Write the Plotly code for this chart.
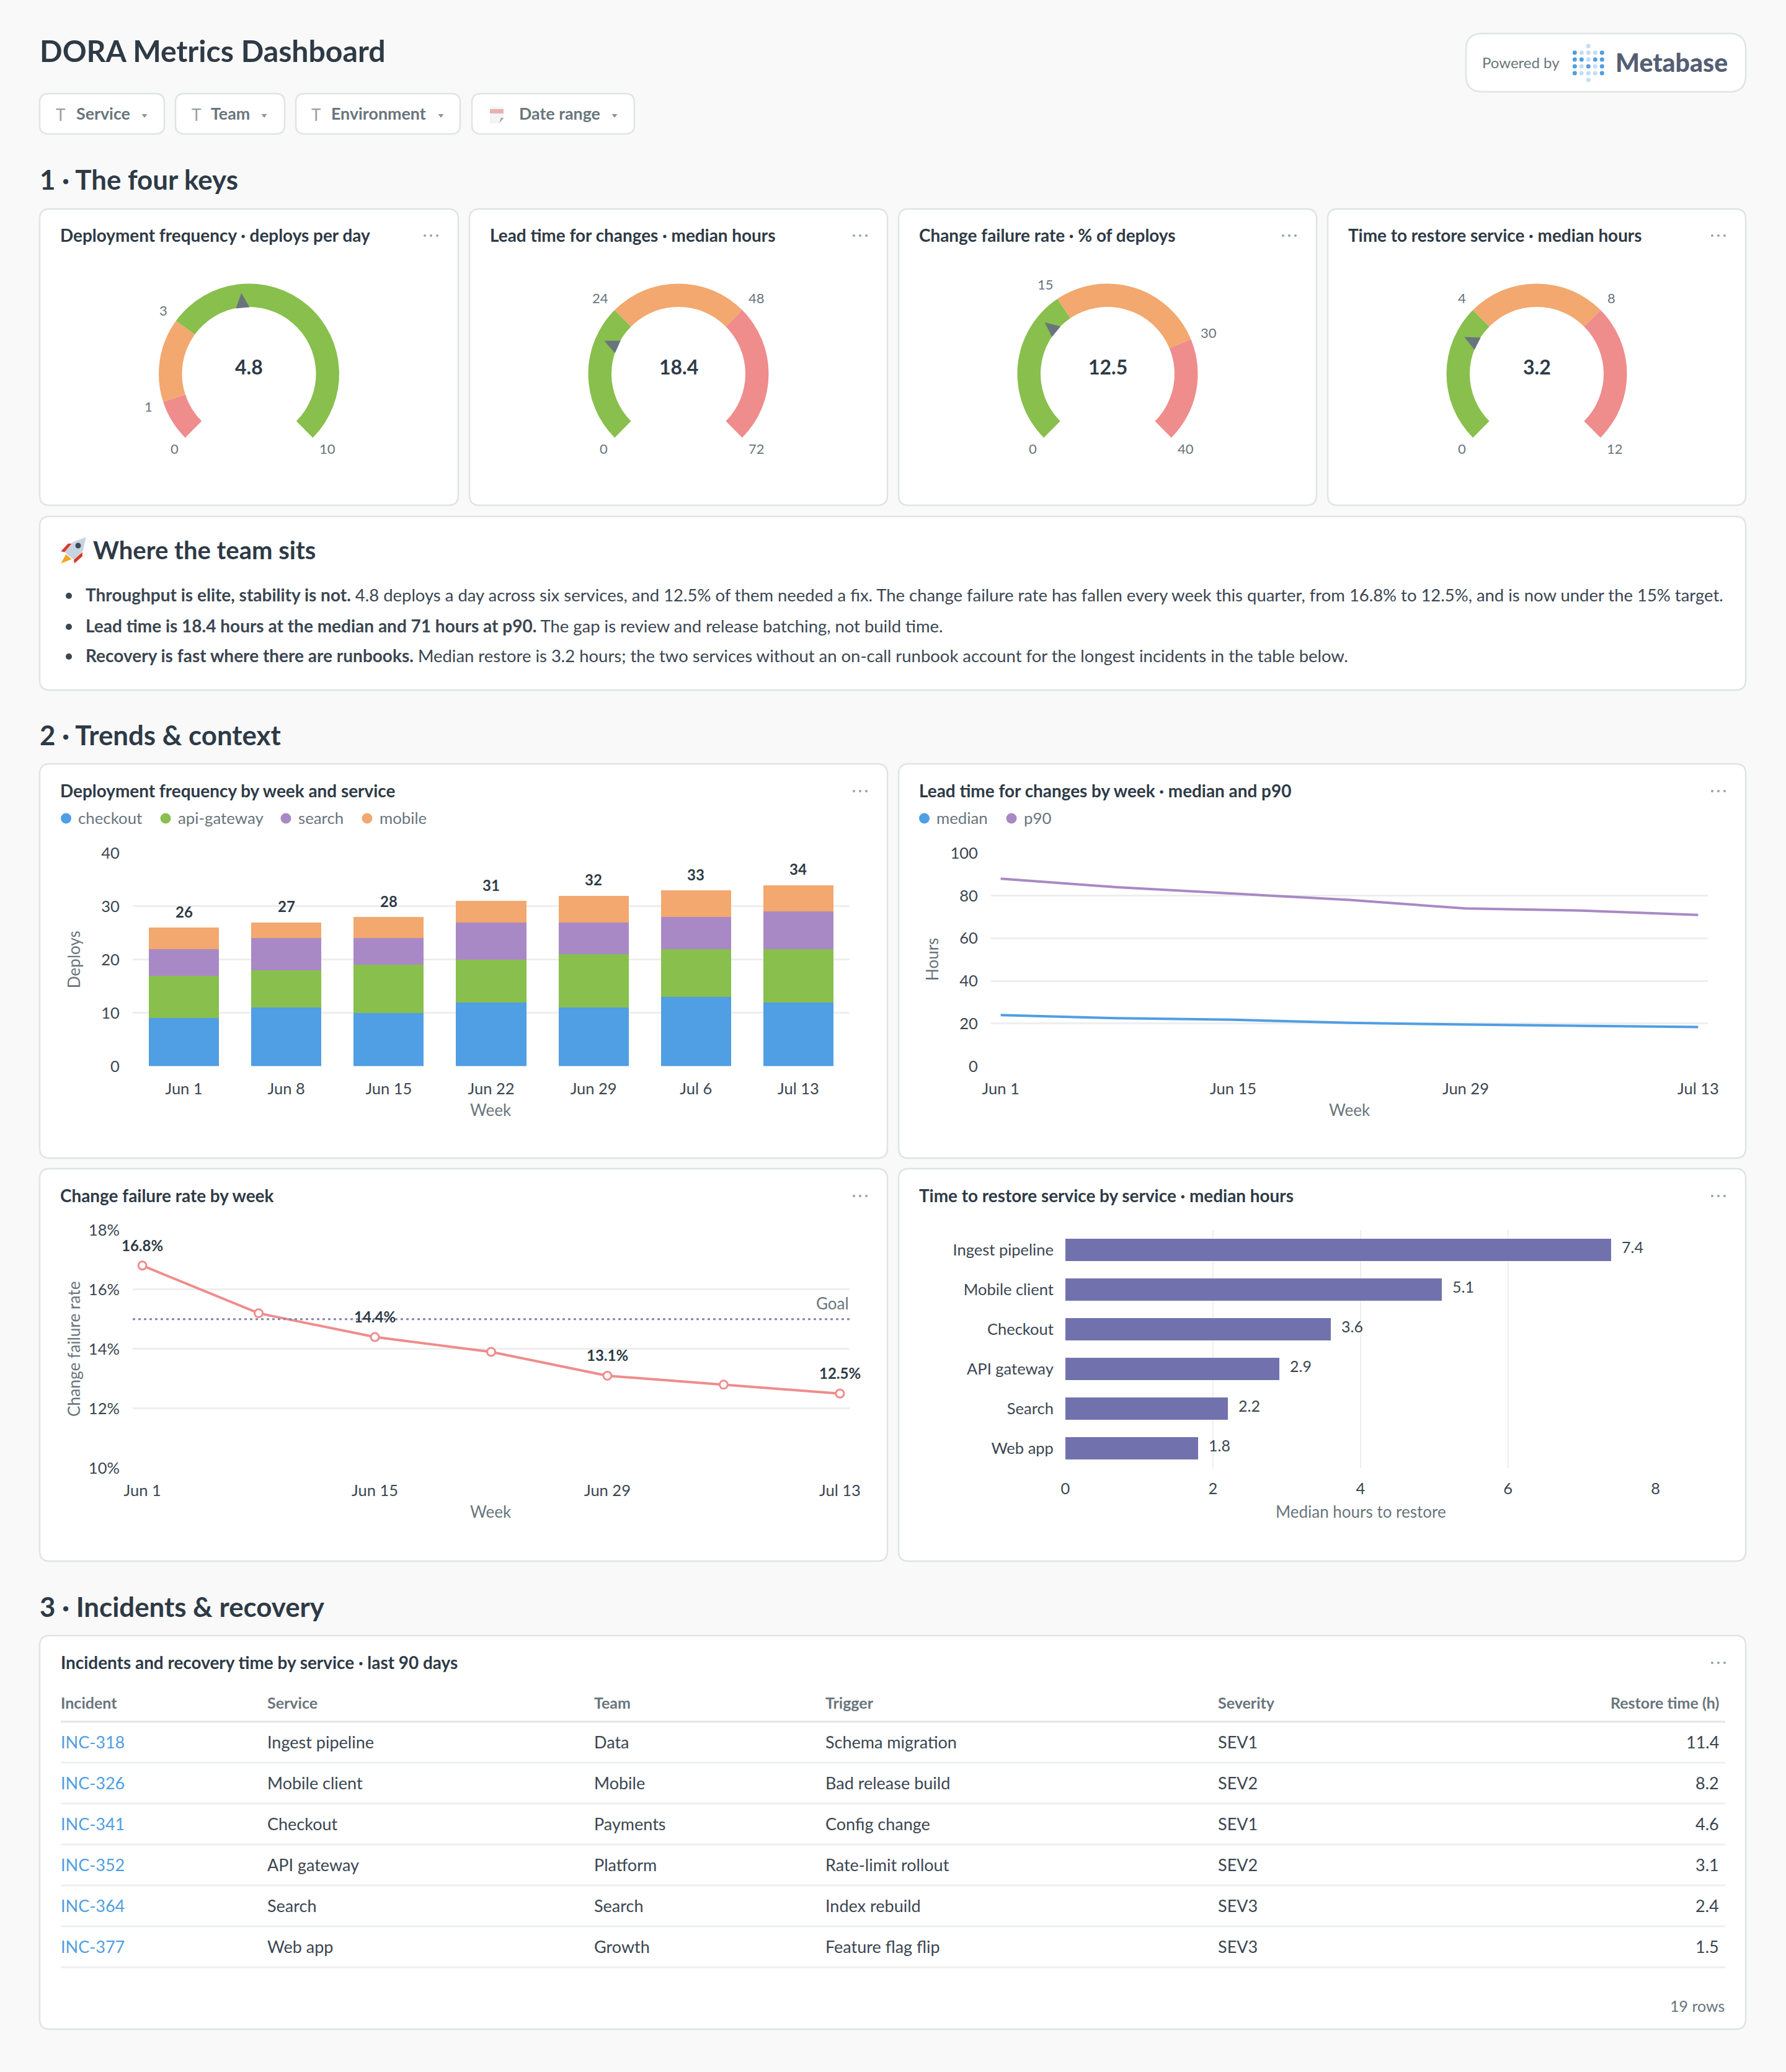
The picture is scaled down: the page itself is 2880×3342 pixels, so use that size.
import math
import plotly.graph_objects as go

W, H = 2880, 3342
FONT = "Lato"
BG = "#f9f9f9"
BORDER = "#e0e4e4"
DARK = "#2e3a46"
BODY = "#3b4651"
GRAY = "#69757c"
GRID = "#eeeeee"
BLUE = "#509ee3"
GREEN = "#88bf4d"
PURPLE = "#a989c5"
ORANGE = "#f2a86f"
RED = "#ef8c8c"
INDIGO = "#7172ad"

# gauges
gauge_titles = ["Deployment frequency · deploys per day", "Lead time for changes · median hours",
                "Change failure rate · % of deploys", "Time to restore service · median hours"]
gauge_values = [4.8, 18.4, 12.5, 3.2]
gauge_stops = [[0, 1, 3, 10], [0, 24, 48, 72], [0, 15, 30, 40], [0, 4, 8, 12]]
gauge_colors = [[RED, ORANGE, GREEN], [GREEN, ORANGE, RED], [GREEN, ORANGE, RED], [GREEN, ORANGE, RED]]

# weekly data
weeks = ["Jun 1", "Jun 8", "Jun 15", "Jun 22", "Jun 29", "Jul 6", "Jul 13"]
sparse_weeks = ["Jun 1", "Jun 15", "Jun 29", "Jul 13"]
checkout = [9, 11, 10, 12, 11, 13, 12]
api_gateway = [8, 7, 9, 8, 10, 9, 10]
search = [5, 6, 5, 7, 6, 6, 7]
mobile = [4, 3, 4, 4, 5, 5, 5]
deploy_totals = [26, 27, 28, 31, 32, 33, 34]
lead_median = [24, 22.5, 21.8, 20.3, 19.5, 18.9, 18.4]
lead_p90 = [88, 84, 81, 78, 74, 73, 71]
cfr = [16.8, 15.2, 14.4, 13.9, 13.1, 12.8, 12.5]
cfr_labels = ["16.8%", "", "14.4%", "", "13.1%", "", "12.5%"]
cfr_goal = 15

# restore time
restore_services = ["Ingest pipeline", "Mobile client", "Checkout", "API gateway", "Search", "Web app"]
restore_hours = [7.4, 5.1, 3.6, 2.9, 2.2, 1.8]

# incidents table
table_headers = ["Incident", "Service", "Team", "Trigger", "Severity", "Restore time (h)"]
inc_ids = ["INC-318", "INC-326", "INC-341", "INC-352", "INC-364", "INC-377"]
inc_services = ["Ingest pipeline", "Mobile client", "Checkout", "API gateway", "Search", "Web app"]
inc_teams = ["Data", "Mobile", "Payments", "Platform", "Search", "Growth"]
inc_triggers = ["Schema migration", "Bad release build", "Config change", "Rate-limit rollout", "Index rebuild", "Feature flag flip"]
inc_severity = ["SEV1", "SEV2", "SEV1", "SEV2", "SEV3", "SEV3"]
inc_restore = ["11.4", "8.2", "4.6", "3.1", "2.4", "1.5"]

notes_bold = ["Throughput is elite, stability is not.", "Lead time is 18.4 hours at the median and 71 hours at p90.",
              "Recovery is fast where there are runbooks."]
notes_rest = [
    " 4.8 deploys a day across six services, and 12.5% of them needed a fix. The change failure rate has fallen every week this quarter, from 16.8% to 12.5%, and is now under the 15% target.",
    " The gap is review and release batching, not build time.",
    " Median restore is 3.2 hours; the two services without an on-call runbook account for the longest incidents in the table below.",
]


def fx(x):
    return x / W


def fy(y):
    return 1 - y / H


shapes = []
annotations = []


def text(x, y, s, size=24, color=BODY, bold=False, anchor="left", angle=0, weight=None):
    if anchor == "left":
        x -= 1.5
    if angle == 0:
        y -= 2
    annotations.append(dict(xref="paper", yref="paper", x=fx(x), y=fy(y), text=s, showarrow=False,
                            xanchor=anchor, yanchor="middle", borderpad=0, textangle=angle,
                            font=dict(family=FONT, size=size, color=color, weight=weight or (700 if bold else 400))))


def data_text(xref, yref, x, y, s, xshift=0, yshift=0, anchor="center", bold=False, color=BODY, size=24):
    annotations.append(dict(xref=xref, yref=yref, x=x, y=y, text=s, showarrow=False, xanchor=anchor,
                            yanchor="middle", xshift=xshift, yshift=yshift, borderpad=0,
                            font=dict(family=FONT, size=size, color=color, weight=700 if bold else 400)))


def poly(points, fill, layer="above"):
    p = "M" + " L".join(f"{fx(x):.6f},{fy(y):.6f}" for x, y in points) + " Z"
    shapes.append(dict(type="path", xref="paper", yref="paper", path=p, fillcolor=fill, line=dict(width=0), layer=layer))


def dot(x, y, r, fill):
    shapes.append(dict(type="circle", xref="paper", yref="paper", x0=fx(x - r), x1=fx(x + r), y0=fy(y + r), y1=fy(y - r),
                       fillcolor=fill, line=dict(width=0), layer="above"))


def box(x0, y0, x1, y1, r=16):
    c = [(x0 + r, y0), (x1 - r, y0), (x1, y0), (x1, y0 + r), (x1, y1 - r), (x1, y1), (x1 - r, y1),
         (x0 + r, y1), (x0, y1), (x0, y1 - r), (x0, y0 + r), (x0, y0), (x0 + r, y0)]
    f = [f"{fx(a):.6f},{fy(b):.6f}" for a, b in c]
    p = f"M{f[0]} L{f[1]} Q{f[2]} {f[3]} L{f[4]} Q{f[5]} {f[6]} L{f[7]} Q{f[8]} {f[9]} L{f[10]} Q{f[11]} {f[12]} Z"
    shapes.append(dict(type="path", xref="paper", yref="paper", path=p, fillcolor="white",
                       line=dict(color=BORDER, width=2.5), layer="below"))


def hline(x0, x1, y, color, width):
    shapes.append(dict(type="line", xref="paper", yref="paper", x0=fx(x0), x1=fx(x1), y0=fy(y), y1=fy(y),
                       line=dict(color=color, width=width), layer="below"))


def menu(x, y):
    for dx in (-10, 0, 10):
        dot(x + dx, y, 2, "#98a1a6")


def rocket(points):
    # rough hand-drawn rocket, scaled up around its middle
    return [(119 + (a - 119) * 1.15, 887 + (b - 887) * 1.15) for a, b in points]


fig = go.Figure()

# header
text(64, 83, "DORA Metrics Dashboard", size=48.2, color=DARK, bold=True)
box(2364, 54, 2815, 148, r=26)
text(2390, 102, "Powered by", size=24, color=GRAY)
logo_rows = ["DLLLD", "DDLDD", "DLDLD", "DLLLD"]
for j, row in enumerate(logo_rows):
    for i, c in enumerate(row):
        dot(2539.3 + i * 11, 85 + j * 11, 3.5, BLUE if c == "D" else "#c5dcf3")
dot(2561.3, 74.3, 3.5, "#c5dcf3")
dot(2561.3, 129, 3.5, "#c5dcf3")
text(2605, 102, "Metabase", size=41, color="#555e73", weight=900)

# filter chips
chips = [("Service", 64, 265, 97, 123, 233), ("Team", 283, 459, 316, 340, 426),
         ("Environment", 477, 742, 509, 534, 711), ("Date range", 761, 1023, None, 837, 991)]
for name, x0, x1, tx, lx, cx in chips:
    box(x0, 151, x1, 216, r=14)
    if tx:
        text(tx, 187, "T", size=26, color="#949ea3", anchor="center")
    text(lx, 185, name, size=26.8, color=GRAY, bold=True)
    poly([(cx - 4.5, 184), (cx + 4.5, 184), (cx, 190)], "#8c969c")
# calendar icon
poly([(790, 172), (812, 172), (812, 192), (805, 199), (790, 199)], "#f4f4f4")
poly([(790, 176), (812, 176), (812, 183), (790, 183)], "#e9b0b0")
poly([(805, 199), (812, 190), (808, 190)], "#9aa0a4")

text(64, 291, "1 · The four keys", size=43.8, color=DARK, bold=True)

# gauge cards
card_x = [(64, 739), (757, 1431), (1449, 2123), (2141, 2815)]
for k, (x0, x1) in enumerate(card_x):
    box(x0, 337, x1, 815)
    text(x0 + 33, 381, gauge_titles[k], size=27.9, color=DARK, bold=True)
    menu(x1 - 44, 380)
    stops = gauge_stops[k]
    vmax = stops[-1]
    cx, cy = (x0 + x1) / 2, 603
    R, r_in = 145.5, 108
    sizes = [b - a for a, b in zip(stops[:-1], stops[1:])]
    fig.add_trace(go.Pie(values=sizes + [vmax / 3], marker=dict(colors=gauge_colors[k] + ["rgba(0,0,0,0)"], line=dict(width=0)),
                         domain=dict(x=[fx(cx - R), fx(cx + R)], y=[fy(cy + R), fy(cy - R)]),
                         hole=r_in / R, rotation=225, sort=False, direction="clockwise",
                         textinfo="none", hoverinfo="skip", showlegend=False))
    for s in stops:
        a = math.radians(225 + 270 * s / vmax)
        ux, uy = math.sin(a), -math.cos(a)
        shift = (len(str(s)) - 1) * 6 * (1 if ux > 0 else -1)
        text(cx + 170 * ux + shift, cy + 172 * uy + 1, str(s), size=22, color=GRAY, anchor="center")
    a = math.radians(225 + 270 * gauge_values[k] / vmax)
    ux, uy = math.sin(a), -math.cos(a)
    poly([(cx + 131 * ux, cy + 131 * uy), (cx + 107 * ux - 11 * uy, cy + 107 * uy + 11 * ux),
          (cx + 107 * ux + 11 * uy, cy + 107 * uy - 11 * ux)], "#69757c")
    text(cx, 594, str(gauge_values[k]), size=32, color=DARK, bold=True, anchor="center")

# note card
box(64, 833, 2815, 1113)
poly(rocket([(136, 869), (132, 888), (119, 901), (106, 890), (118, 876)]), "#c6d4e2")
poly(rocket([(106, 890), (101, 889), (111, 878), (116, 878)]), "#d8392b")
poly(rocket([(119, 901), (120, 906), (131, 896), (131, 890)]), "#d8392b")
poly(rocket([(108, 893), (116, 900), (101, 906)]), "#f5a623")
dot(126, 880, 4.5, "#3c4a57")
text(150, 889, "Where the team sits", size=40, color=DARK, bold=True)
for y, head, rest in zip([961, 1011, 1059], notes_bold, notes_rest):
    dot(111, y, 5, BODY)
    line = f'<span style="font-weight:bold;font-size:28px">{head}</span>{rest}'
    text(138, y, line, size=27.45, color=BODY)

text(64, 1187, "2 · Trends &amp; context", size=43.8, color=DARK, bold=True)

# chart cards
chart_cards = [(64, 1232, 1431, 1868, "Deployment frequency by week and service"),
               (1449, 1232, 2815, 1868, "Lead time for changes by week · median and p90"),
               (64, 1885, 1431, 2518, "Change failure rate by week"),
               (1449, 1885, 2815, 2518, "Time to restore service by service · median hours")]
for x0, y0, x1, y1, title in chart_cards:
    box(x0, y0, x1, y1)
    text(x0 + 33, y0 + 45, title, size=27.9, color=DARK, bold=True)
    menu(x1 - 44, y0 + 44)

# legends
legend_items = [(106.5, "checkout", BLUE), (267, "api-gateway", GREEN), (461, "search", PURPLE), (592, "mobile", ORANGE),
                (1490.5, "median", BLUE), (1631, "p90", PURPLE)]
for x, name, color in legend_items:
    dot(x, 1320, 8.5, color)
    text(x + 20, 1321, name, size=25.8, color=GRAY)

axis_font = dict(family=FONT, size=25.5, color=BODY)
clear = "rgba(0,0,0,0)"


def y_axis(x_name, y0, y1, rng, dtick, **kw):
    return dict(anchor=x_name, domain=[fy(y1), fy(y0)], range=rng, dtick=dtick, showgrid=True, gridcolor=GRID, gridwidth=3,
                zeroline=False, showline=False, ticks="outside", ticklen=15, tickcolor=clear, tickfont=axis_font, **kw)


def x_cat(y_name, x0, x1, y_len=14, **kw):
    return dict(anchor=y_name, domain=[fx(x0), fx(x1)], type="category", categoryorder="array", categoryarray=weeks,
                showgrid=False, zeroline=False, showline=False, ticks="outside", ticklen=y_len, tickcolor=clear,
                tickfont=axis_font, **kw)


# deployment frequency
for name, vals, color in [("checkout", checkout, BLUE), ("api-gateway", api_gateway, GREEN),
                          ("search", search, PURPLE), ("mobile", mobile, ORANGE)]:
    fig.add_trace(go.Bar(x=weeks, y=vals, name=name, marker=dict(color=color, line=dict(width=0)), xaxis="x", yaxis="y", showlegend=False))
for wk, total in zip(weeks, deploy_totals):
    data_text("x", "y", wk, total, str(total), yshift=26, bold=True, color=DARK)
text(119, 1548, "Deploys", size=26, color=GRAY, anchor="center", angle=-90)
text(791.6, 1792, "Week", size=26, color=GRAY, anchor="center")

# lead time
for name, vals, color in [("median", lead_median, BLUE), ("p90", lead_p90, PURPLE)]:
    fig.add_trace(go.Scatter(x=weeks, y=vals, name=name, mode="lines", line=dict(color=color, width=4), xaxis="x2", yaxis="y2", showlegend=False))
text(1503, 1548, "Hours", size=26, color=GRAY, anchor="center", angle=-90)
text(2176, 1792, "Week", size=26, color=GRAY, anchor="center")

# change failure rate
fig.add_trace(go.Scatter(x=weeks, y=cfr, mode="lines+markers", line=dict(color=RED, width=4),
                         marker=dict(size=13, color="white", line=dict(color=RED, width=3)), xaxis="x3", yaxis="y3", showlegend=False))
for wk, v, lab in zip(weeks, cfr, cfr_labels):
    if lab:
        data_text("x3", "y3", wk, v, lab, yshift=33, bold=True, color=DARK)
shapes.append(dict(type="line", xref="x3 domain", yref="y3", x0=0, x1=1, y0=cfr_goal, y1=cfr_goal,
                   line=dict(color="#8486ad", width=3, dash="4px,5px"), layer="above"))
data_text("x3 domain", "y3", 1, cfr_goal, "Goal", yshift=26, anchor="right", color=GRAY, size=26)
text(119, 2176, "Change failure rate", size=26.3, color=GRAY, anchor="center", angle=-90)
text(791.6, 2440, "Week", size=26, color=GRAY, anchor="center")

# restore by service
fig.add_trace(go.Bar(x=restore_hours, y=restore_services, orientation="h", width=0.56, marker=dict(color=INDIGO, line=dict(width=0)),
                     xaxis="x4", yaxis="y4", showlegend=False))
for svc, v in zip(restore_services, restore_hours):
    data_text("x4", "y4", v, svc, str(v), xshift=16, yshift=5, anchor="left", size=25)
text(2194, 2440, "Median hours to restore", size=26, color=GRAY, anchor="center")

# incidents table
text(64, 2593, "3 · Incidents &amp; recovery", size=43.8, color=DARK, bold=True)
box(64, 2638, 2815, 3273)
text(98, 2683, "Incidents and recovery time by service · last 90 days", size=27.9, color=DARK, bold=True)
menu(2771, 2682)
col_x = [98, 431, 958, 1331, 1964, 2773]
for i, head in enumerate(table_headers):
    text(col_x[i], 2748, head, size=25, color=GRAY, bold=True, anchor="right" if i == 5 else "left")
hline(98, 2782, 2777, "#e2e4e6", 3)
row_y = [2811, 2877, 2943, 3009, 3075, 3141]
for j, y in enumerate(row_y):
    text(col_x[0], y, inc_ids[j], size=27, color=BLUE)
    text(col_x[1], y, inc_services[j], size=27)
    text(col_x[2], y, inc_teams[j], size=27)
    text(col_x[3], y, inc_triggers[j], size=27)
    text(col_x[4], y, inc_severity[j], size=27)
    text(col_x[5], y, inc_restore[j], size=27, anchor="right")
    hline(98, 2782, y + 32, "#eeeff0", 3)
text(2782, 3237, "19 rows", size=25, color=GRAY, anchor="right")

fig.update_layout(
    width=W, height=H, autosize=False, paper_bgcolor=BG, plot_bgcolor="rgba(0,0,0,0)", barmode="stack", bargap=0.315,
    margin=dict(l=0, r=0, t=0, b=0, pad=0, autoexpand=False), hovermode=False, shapes=shapes, annotations=annotations,
    font=dict(family=FONT, size=24, color=BODY),
    xaxis=x_cat("y", 214, 1370),
    yaxis=y_axis("x", 1376, 1719.6, [0, 40], 10),
    xaxis2=x_cat("y2", 1598, 2754, range=[-0.0833, 6.0833], tickmode="array", tickvals=sparse_weeks, ticktext=sparse_weeks),
    yaxis2=y_axis("x2", 1376, 1719.6, [0, 100], 20),
    xaxis3=x_cat("y3", 214, 1370, range=[-0.0833, 6.0833], tickmode="array", tickvals=sparse_weeks, ticktext=sparse_weeks),
    yaxis3=y_axis("x3", 1983.7, 2367.8, [10, 18], 2, ticksuffix="%"),
    xaxis4=dict(anchor="y4", domain=[fx(1718), fx(2669.6)], range=[0, 8], dtick=2, showgrid=True, gridcolor=GRID, gridwidth=2,
                zeroline=False, showline=False, ticks="outside", ticklen=10, tickcolor=clear, tickfont=axis_font),
    yaxis4=dict(anchor="x4", domain=[fy(2368), fy(1984)], type="category", categoryorder="array", categoryarray=restore_services,
                autorange="reversed", showgrid=False, zeroline=False, showline=False, ticks="outside", ticklen=13,
                tickcolor=clear, tickfont=axis_font),
)

fig.write_html("out.html", config=dict(displayModeBar=False),
               post_script="document.body.style.margin='0';document.body.style.background='" + BG + "';")
